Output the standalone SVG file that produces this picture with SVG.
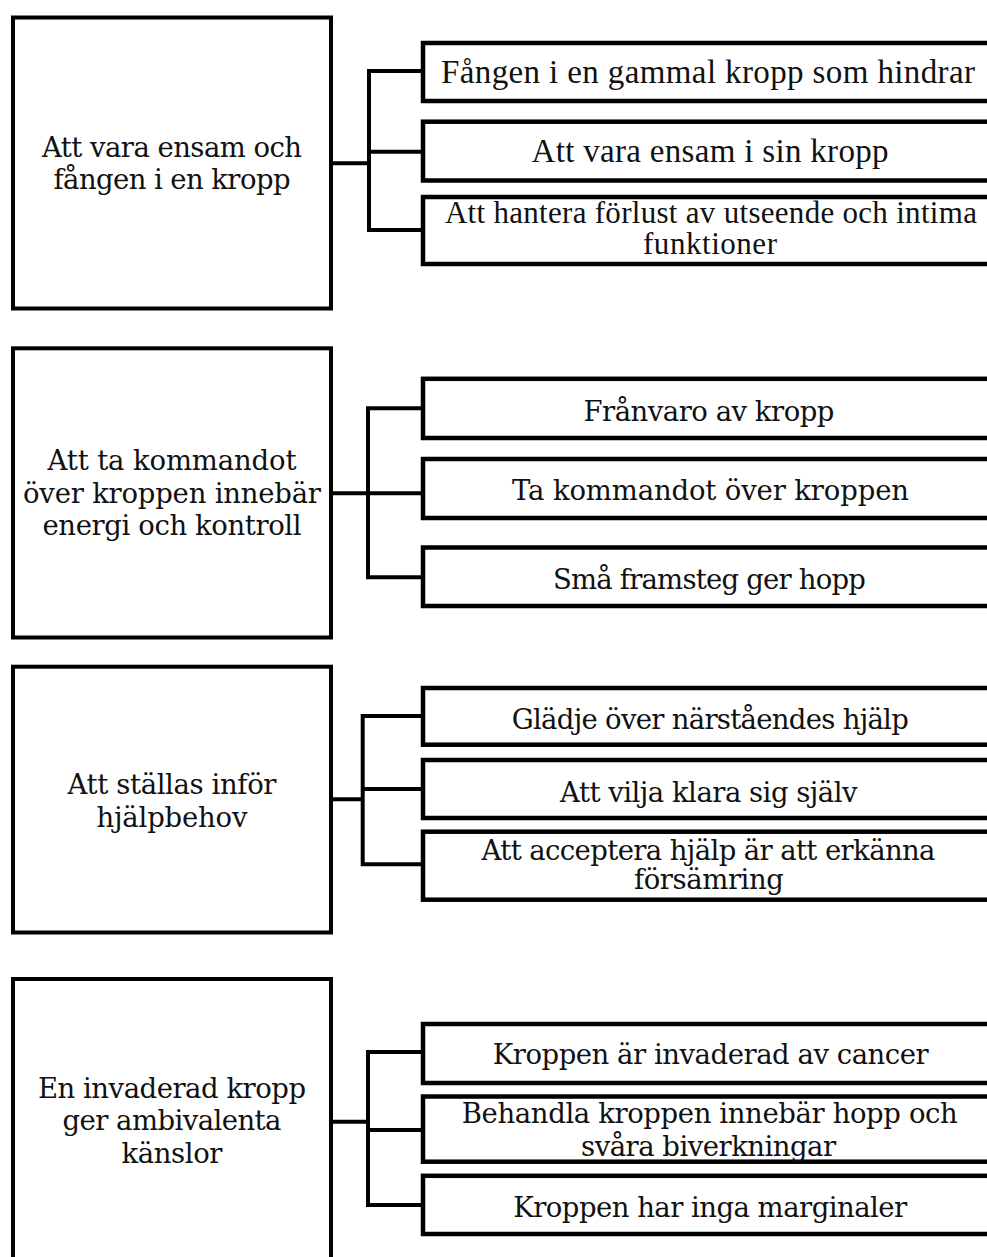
<svg xmlns="http://www.w3.org/2000/svg" width="987" height="1257" viewBox="0 0 987 1257">
<style>
.box{fill:#fff;stroke:#000;stroke-width:4}
.sub{fill:#fff;stroke:#000;stroke-width:4.5}
.con{fill:none;stroke:#000;stroke-width:4;stroke-linejoin:miter;stroke-linecap:square}
.m{font-family:"DejaVu Serif","Liberation Serif",serif;font-size:27.5px;fill:#111;text-anchor:middle}
.c{font-family:"DejaVu Serif","Liberation Serif",serif;font-size:27.5px;fill:#111;text-anchor:middle}
.t{font-family:"Liberation Serif","Times New Roman",serif;font-size:33px;fill:#111;text-anchor:middle}
.t2{font-family:"Liberation Serif","Times New Roman",serif;font-size:31px;fill:#111;text-anchor:middle}
</style>
<rect width="987" height="1257" fill="#fff"/>
<g id="connectors">
<path class="con" d="M331,163.3 H369 M423,71 H369 V230 H423 M369,151.7 H423"/>
<path class="con" d="M331,493.3 H368 M423,408.3 H368 V577.3 H423 M368,493.3 H423"/>
<path class="con" d="M331,799.3 H362.7 M423,716 H362.7 V864.3 H423 M362.7,789 H423"/>
<path class="con" d="M331,1121.7 H368 M423,1052 H368 V1205 H423 M368,1130 H423"/>
</g>
<g id="theme1">
<rect class="box" x="13" y="17.5" width="318" height="291"/>
<text class="m" x="172" y="156.7" textLength="260">Att vara ensam och</text>
<text class="m" x="172" y="189.3" textLength="237">fången i en kropp</text>
</g>
<g id="theme1-sub1">
<rect class="sub" x="423" y="43" width="590" height="58"/>
<text class="t" x="708" y="83" textLength="534">Fången i en gammal kropp som hindrar</text>
</g>
<g id="theme1-sub2">
<rect class="sub" x="423" y="121.7" width="590" height="58.8"/>
<text class="t" x="710" y="161.7" textLength="357">Att vara ensam i sin kropp</text>
</g>
<g id="theme1-sub3">
<rect class="sub" x="423" y="197" width="590" height="67"/>
<text class="t2" x="710.9" y="222.5" textLength="532">Att hantera förlust av utseende och intima</text>
<text class="t2" x="710" y="254" textLength="134">funktioner</text>
</g>
<g id="theme2">
<rect class="box" x="13" y="348.3" width="318" height="289.2"/>
<text class="m" x="172" y="470" textLength="249">Att ta kommandot</text>
<text class="m" x="172" y="502.7" textLength="298">över kroppen innebär</text>
<text class="m" x="172" y="535" textLength="259">energi och kontroll</text>
</g>
<g id="theme2-sub1">
<rect class="sub" x="423" y="378.8" width="590" height="59.2"/>
<text class="c" x="708.9" y="421" textLength="251">Frånvaro av kropp</text>
</g>
<g id="theme2-sub2">
<rect class="sub" x="423" y="459" width="590" height="59"/>
<text class="c" x="710.5" y="500" textLength="397">Ta kommandot över kroppen</text>
</g>
<g id="theme2-sub3">
<rect class="sub" x="423" y="547.5" width="590" height="58.5"/>
<text class="c" x="709.4" y="589" textLength="313">Små framsteg ger hopp</text>
</g>
<g id="theme3">
<rect class="box" x="13" y="666.7" width="318" height="265.8"/>
<text class="m" x="172" y="794" textLength="209">Att ställas inför</text>
<text class="m" x="172" y="826.7" textLength="151">hjälpbehov</text>
</g>
<g id="theme3-sub1">
<rect class="sub" x="423" y="688" width="590" height="56.7"/>
<text class="c" x="710.3" y="729" textLength="397">Glädje över närståendes hjälp</text>
</g>
<g id="theme3-sub2">
<rect class="sub" x="423" y="760" width="590" height="58"/>
<text class="c" x="708.8" y="802" textLength="297.5">Att vilja klara sig själv</text>
</g>
<g id="theme3-sub3">
<rect class="sub" x="423" y="831.7" width="590" height="68"/>
<text class="c" x="708.5" y="859.5" textLength="454">Att acceptera hjälp är att erkänna</text>
<text class="c" x="708.9" y="888.5" textLength="150">försämring</text>
</g>
<g id="theme4">
<rect class="box" x="13" y="979" width="318" height="300"/>
<text class="m" x="172" y="1097.7" textLength="268">En invaderad kropp</text>
<text class="m" x="172" y="1130" textLength="219">ger ambivalenta</text>
<text class="m" x="172" y="1163" textLength="101">känslor</text>
</g>
<g id="theme4-sub1">
<rect class="sub" x="423" y="1024" width="590" height="59"/>
<text class="c" x="710.7" y="1064" textLength="436">Kroppen är invaderad av cancer</text>
</g>
<g id="theme4-sub2">
<rect class="sub" x="423" y="1096.5" width="590" height="65.2"/>
<text class="c" x="709.8" y="1122.5" textLength="496">Behandla kroppen innebär hopp och</text>
<text class="c" x="708.6" y="1156" textLength="255">svåra biverkningar</text>
</g>
<g id="theme4-sub3">
<rect class="sub" x="423" y="1175.8" width="590" height="58.2"/>
<text class="c" x="710.2" y="1216.7" textLength="394">Kroppen har inga marginaler</text>
</g>
</svg>
